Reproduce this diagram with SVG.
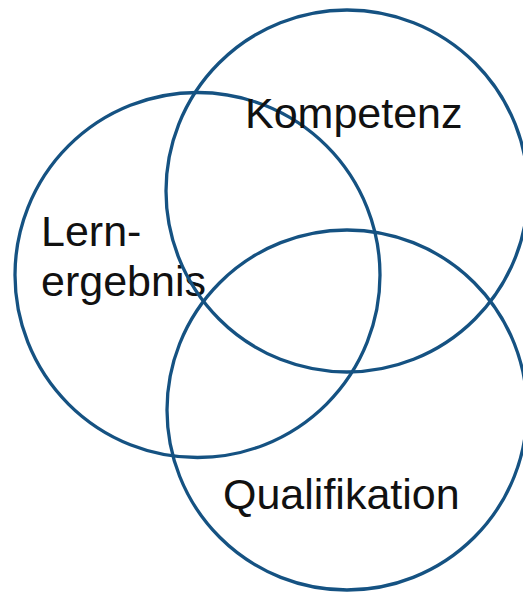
<svg xmlns="http://www.w3.org/2000/svg" width="523" height="593" viewBox="0 0 523 593">
<style>
.c{fill:none;stroke:#155282;stroke-width:3.3}
.t{font-family:"Liberation Sans",Arial,sans-serif;font-size:43px;fill:#111}
</style>
<rect width="523" height="593" fill="#fff"/>
<g id="lernergebnis">
<circle class="c" cx="197.5" cy="275" r="182.5"/>
<text class="t" x="41" y="246">Lern-</text>
<text class="t" x="41" y="296">ergebnis</text>
</g>
<g id="kompetenz">
<circle class="c" cx="347" cy="191" r="181"/>
<text class="t" x="245" y="128">Kompetenz</text>
</g>
<g id="qualifikation">
<circle class="c" cx="347" cy="410" r="180"/>
<text class="t" x="223" y="509">Qualifikation</text>
</g>
</svg>
